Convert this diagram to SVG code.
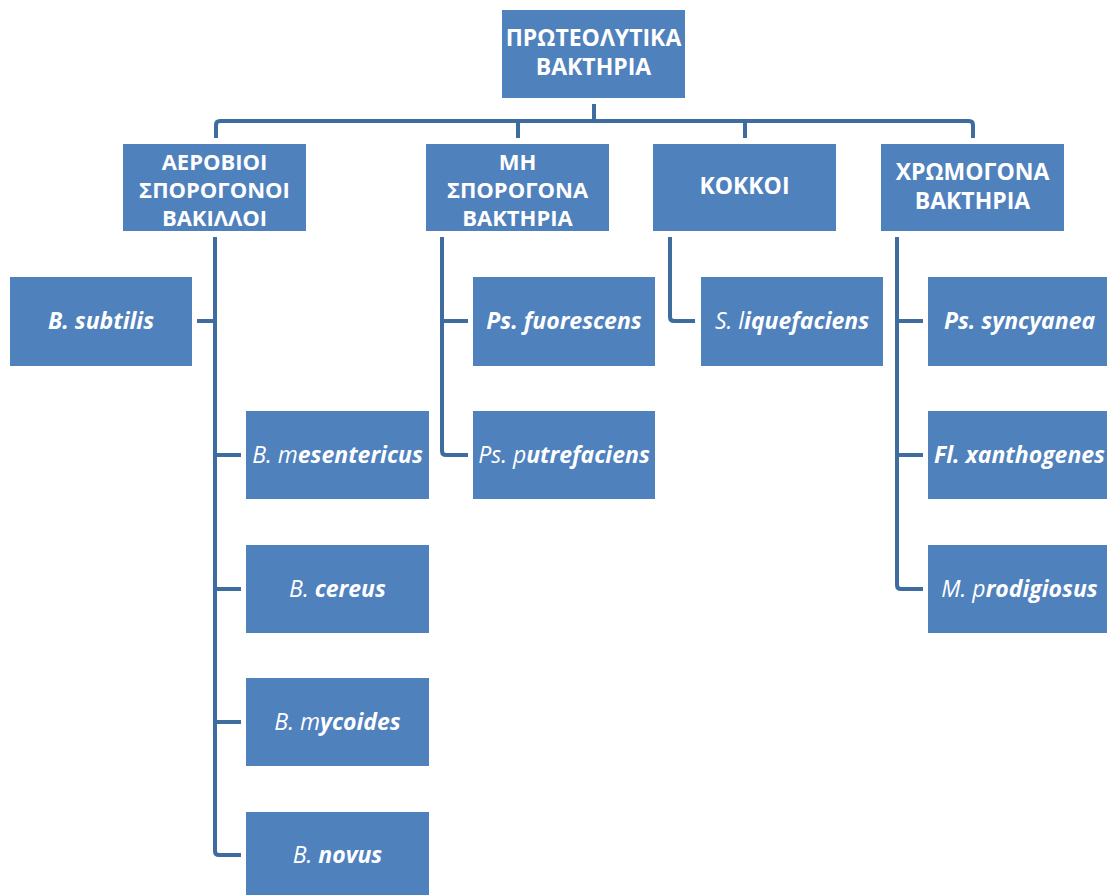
<svg xmlns="http://www.w3.org/2000/svg" width="1107" height="895" viewBox="0 0 1107 895">
<style>
.box{fill:#4F81BD;}
.c{fill:none;stroke:#3F6C9F;stroke-width:4;stroke-linejoin:round;stroke-linecap:butt;}
.h{font-family:"Open Sans","Noto Sans","DejaVu Sans",sans-serif;font-size:23px;font-weight:bold;fill:#FFFFFF;text-anchor:middle;}
.h3{font-size:22px;}
.t{font-family:"Open Sans","Noto Sans","DejaVu Sans",sans-serif;font-size:23px;font-weight:bold;font-style:italic;fill:#FFFFFF;text-anchor:middle;}
.n{font-weight:normal;}
</style>
<rect width="1107" height="895" fill="#FFFFFF"/>
<g id="connectors">
<path class="c" d="M594,104 V121"/>
<path class="c" d="M216,138 V125 Q216,121 220,121 H969 Q973,121 973,125 V138"/>
<path class="c" d="M518,121 V138"/>
<path class="c" d="M745,121 V138"/>
<path class="c" d="M215,237 V851 Q215,855 219,855 H241"/>
<path class="c" d="M197,321 H215"/>
<path class="c" d="M215,455 H241"/>
<path class="c" d="M215,589 H241"/>
<path class="c" d="M215,722 H241"/>
<path class="c" d="M442,237 V451 Q442,455 446,455 H468"/>
<path class="c" d="M442,321 H468"/>
<path class="c" d="M670,237 V317 Q670,321 674,321 H695"/>
<path class="c" d="M897,237 V585 Q897,589 901,589 H923"/>
<path class="c" d="M897,321 H923"/>
<path class="c" d="M897,455 H923"/>
</g>
<g id="root">
<rect class="box" x="502" y="10" width="183" height="88"/>
<text class="h" x="593.5" y="46">ΠΡΩΤΕΟΛΥΤΙΚΑ</text>
<text class="h" x="593.5" y="75">ΒΑΚΤΗΡΙΑ</text>
</g>
<g id="aerobic">
<rect class="box" x="123" y="144" width="183" height="87"/>
<text class="h h3" x="214.5" y="170">ΑΕΡΟΒΙΟΙ</text>
<text class="h h3" x="214.5" y="198">ΣΠΟΡΟΓΟΝΟΙ</text>
<text class="h h3" x="214.5" y="226">ΒΑΚΙΛΛΟΙ</text>
</g>
<g id="nonspore">
<rect class="box" x="426" y="144" width="183" height="87"/>
<text class="h h3" x="517.5" y="170">ΜΗ</text>
<text class="h h3" x="517.5" y="198">ΣΠΟΡΟΓΟΝΑ</text>
<text class="h h3" x="517.5" y="226">ΒΑΚΤΗΡΙΑ</text>
</g>
<g id="cocci">
<rect class="box" x="653" y="144" width="183" height="87"/>
<text class="h" x="744.5" y="194">ΚΟΚΚΟΙ</text>
</g>
<g id="chromogenic">
<rect class="box" x="881" y="144" width="183" height="87"/>
<text class="h" x="972.5" y="180">ΧΡΩΜΟΓΟΝΑ</text>
<text class="h" x="972.5" y="209">ΒΑΚΤΗΡΙΑ</text>
</g>
<g id="b-subtilis">
<rect class="box" x="10" y="277" width="182" height="89"/>
<text class="t" x="101" y="329">B. subtilis</text>
</g>
<g id="b-mesentericus">
<rect class="box" x="246" y="411" width="183" height="88"/>
<text class="t" x="337.5" y="462.5"><tspan class="n">B. m</tspan>esentericus</text>
</g>
<g id="b-cereus">
<rect class="box" x="246" y="545" width="183" height="88"/>
<text class="t" x="337.5" y="596.5"><tspan class="n">B. </tspan>cereus</text>
</g>
<g id="b-mycoides">
<rect class="box" x="246" y="678" width="183" height="88"/>
<text class="t" x="337.5" y="729.5"><tspan class="n">B. m</tspan>ycoides</text>
</g>
<g id="b-novus">
<rect class="box" x="246" y="812" width="183" height="88"/>
<text class="t" x="337.5" y="863"><tspan class="n">B. </tspan>novus</text>
</g>
<g id="ps-fuorescens">
<rect class="box" x="473" y="277" width="182" height="89"/>
<text class="t" x="564" y="329">Ps. fuorescens</text>
</g>
<g id="ps-putrefaciens">
<rect class="box" x="473" y="411" width="182" height="88"/>
<text class="t" x="564" y="462.5"><tspan class="n">Ps. p</tspan>utrefaciens</text>
</g>
<g id="s-liquefaciens">
<rect class="box" x="701" y="277" width="182" height="89"/>
<text class="t" x="792" y="329"><tspan class="n">S. l</tspan>iquefaciens</text>
</g>
<g id="ps-syncyanea">
<rect class="box" x="928" y="277" width="183" height="89"/>
<text class="t" x="1019.5" y="329">Ps. syncyanea</text>
</g>
<g id="fl-xanthogenes">
<rect class="box" x="928" y="411" width="183" height="88"/>
<text class="t" x="1019.5" y="462.5">Fl. xanthogenes</text>
</g>
<g id="m-prodigiosus">
<rect class="box" x="928" y="545" width="183" height="88"/>
<text class="t" x="1019.5" y="596.5"><tspan class="n">M. p</tspan>rodigiosus</text>
</g>
</svg>
